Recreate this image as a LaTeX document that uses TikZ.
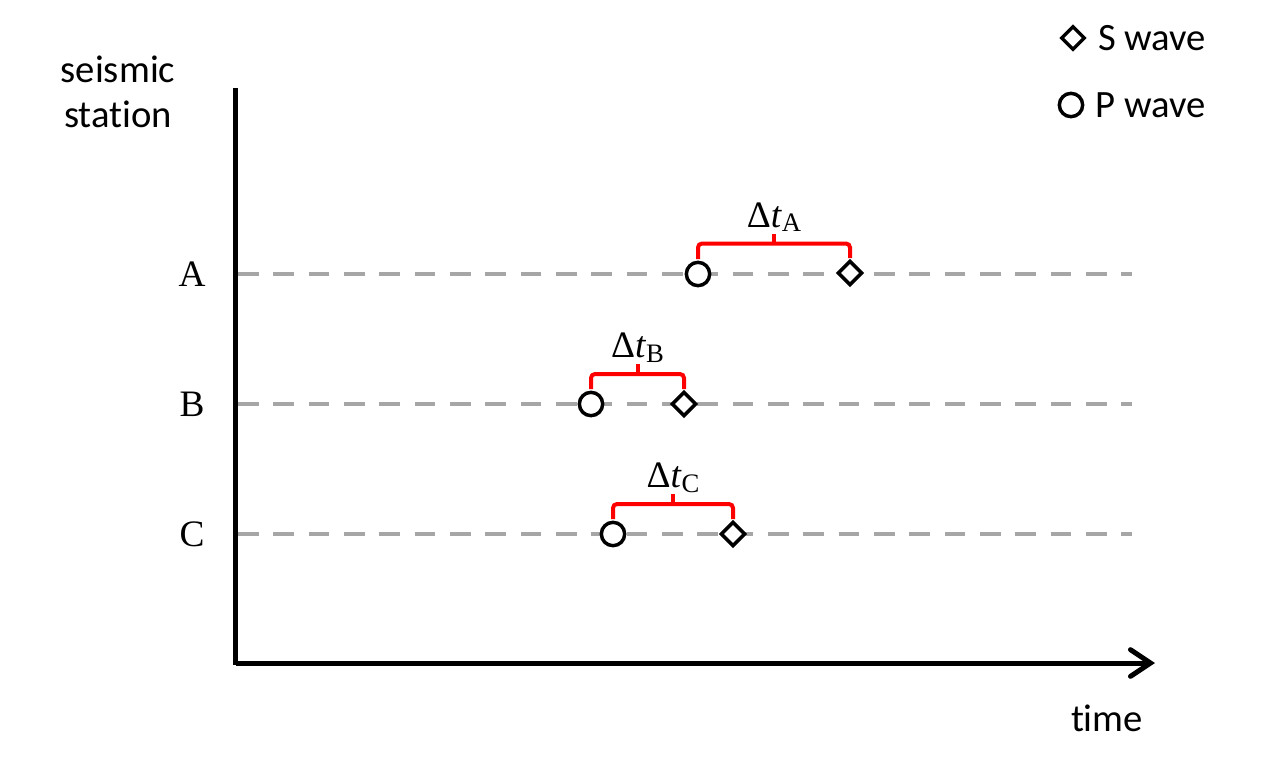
\documentclass[tikz,border=0pt]{standalone}
\usepackage{fontspec}
\setmainfont{Liberation Serif}
\newfontfamily\calibfont[Ligatures=NoCommon]{Carlito}
\usepackage{tikz}
\usetikzlibrary{positioning, arrows.meta, shapes.geometric, calc}
\definecolor{dashgray}{HTML}{A6A6A6}
\definecolor{gapred}{HTML}{FF0000}
\tikzset{
  axis/.style={line width=3.75pt, draw=black},
  stationline/.style={line width=3.6pt, draw=dashgray, dash pattern=on 15.5pt off 11pt},
  pwave/.style={circle, draw=black, line width=2.6pt, fill=white, minimum size=17.5pt, inner sep=0pt},
  swave/.style={diamond, draw=black, line width=2.6pt, fill=white, minimum size=18.5pt, inner sep=0pt},
  gapbrace/.style={draw=gapred, line width=3pt, rounded corners=3pt},
  stationlabel/.style={font=\fontsize{28}{28}\selectfont, anchor=center},
  gaplabel/.style={font=\fontsize{28}{28}\selectfont, inner sep=1pt},
  sanslabel/.style={font=\calibfont\fontsize{29}{34}\selectfont, align=center},
}
\newcommand{\gapsub}[1]{\raisebox{-0.28ex}{\fontsize{20}{20}\selectfont #1}}

\begin{document}
\begin{tikzpicture}[x=0.75pt, y=-0.75pt]
  \useasboundingbox (0,0) rectangle (1264,764);

  % axes
  \coordinate (origin) at (235.5,663);
  \coordinate (ytop) at (235.5,88);
  \coordinate (xend) at (1155,663);
  \draw[axis] (ytop) -- ([yshift=-1.4pt]origin);
  \draw[axis, -{Straight Barb[length=15pt, width=20pt, line cap=round]}] (origin) -- (xend);

  % station lines
  \foreach \st/\y in {A/274, B/404, C/534} {
    \coordinate (start\st) at (238,\y);
    \coordinate (end\st) at (1132,\y);
    \draw[stationline] (start\st) -- (end\st);
    \node[stationlabel] (label\st) at (192,\y) {\st};
  }

  % arrivals
  \node[pwave] (pA) at (698,274) {};
  \node[swave] (sA) at (850,273) {};
  \node[pwave] (pB) at (591,404) {};
  \node[swave] (sB) at (684,404) {};
  \node[pwave] (pC) at (613,534) {};
  \node[swave] (sC) at (733,534) {};

  % brackets
  \foreach \st in {A, B, C} {
    \coordinate (left\st) at ($(p\st.center)+(0,-15)$);
    \coordinate (right\st) at ($(s\st.center)+(0,-15)$);
    \coordinate (mid\st) at ($(p\st.center)!0.5!(s\st.center)+(0,-30)$);
    \draw[gapbrace] (left\st) |- (mid\st) -| (right\st);
    \draw[draw=gapred, line width=3pt] (mid\st) -- ++(0,-10) coordinate (tip\st);
    \node[gaplabel, above=0pt of tip\st] (gap\st) {Δ\textit{t}\gapsub{\st}};
  }

  % legend
  \node[swave, minimum size=18pt] (legS) at (1073,38) {};
  \node[sanslabel, anchor=west, right=5pt of legS] (legStext) {S wave};
  \node[pwave] (legP) at (1071,105) {};
  \node[sanslabel, anchor=west, right=5pt of legP] (legPtext) {P wave};

  % axis titles
  \node[sanslabel] (ytitle) at (118,92) {seismic\\station};
  \node[sanslabel] (xtitle) at (1107,718) {time};
\end{tikzpicture}
\end{document}
